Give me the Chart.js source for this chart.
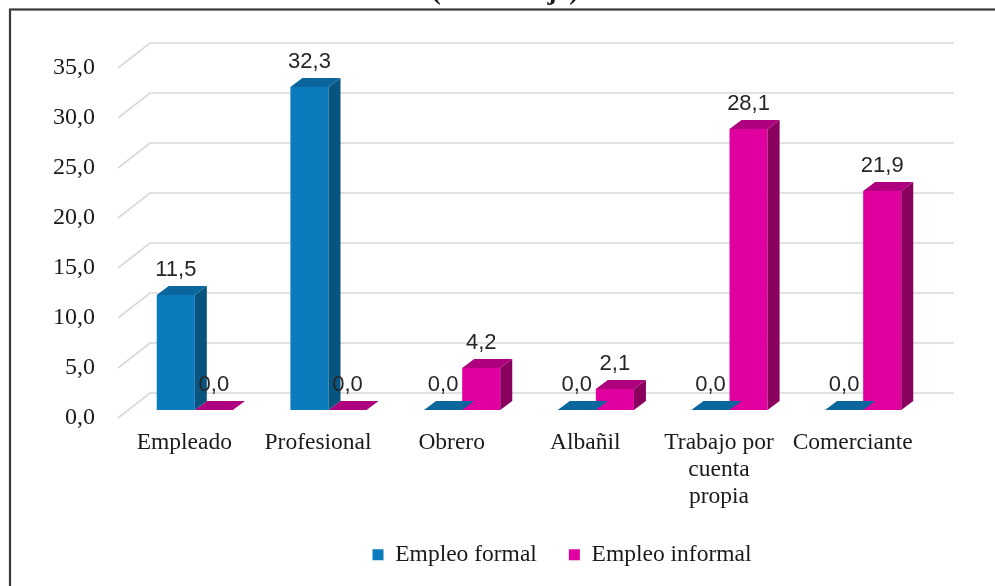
<!DOCTYPE html>
<html>
<head>
<meta charset="utf-8">
<script src="https://cdn.jsdelivr.net/npm/chart.js@4/dist/chart.umd.min.js"></script>
<style>
  html, body { margin: 0; padding: 0; background: #ffffff; overflow: hidden; width: 995px; height: 586px; }
  #wrap { position: absolute; left: 0; top: -30px; }
</style>
</head>
<body>
<div id="wrap"><canvas id="c" width="1124" height="626"></canvas></div>
<script>
// ---- data ----
const title = '(Porcentaje)';
const categories = ['Empleado', 'Profesional', 'Obrero', 'Albañil', ['Trabajo por', 'cuenta', 'propia'], 'Comerciante'];
const seriesNames = ['Empleo formal', 'Empleo informal'];
const formalValues = [11.5, 32.3, 0.0, 0.0, 0.0, 0.0];
const informalValues = [0.0, 0.0, 4.2, 2.1, 28.1, 21.9];
const yTicks = [0, 5, 10, 15, 20, 25, 30, 35];

// ---- styles ----
const faceColors = [
  { front: '#0B7BBE', top: '#0A669D', side: '#07557F' },
  { front: '#E0009F', top: '#AE007E', side: '#89005F' }
];
const DX = 12, DY = 9;              // bar depth
const BACK_DX = 22, BACK_DY = 17;   // back wall offset from bar plane
const FRONT_DX = -10, FRONT_DY = 8; // front floor edge offset
const serif = '"Liberation Serif", "Times New Roman", serif';
const fmt = v => Number(v).toFixed(1).replace('.', ',');

const gridPlugin = {
  id: 'grid3d',
  beforeDatasetsDraw(chart) {
    const ys = chart.scales.y;
    const area = chart.chartArea;
    const ctx = chart.ctx;
    ctx.save();
    ctx.strokeStyle = '#D9D9D9';
    ctx.lineWidth = 1.6;
    yTicks.forEach(v => {
      const y = ys.getPixelForValue(v);
      ctx.beginPath();
      ctx.moveTo(area.left + FRONT_DX, y + FRONT_DY);
      ctx.lineTo(area.left + BACK_DX, y - BACK_DY);
      ctx.lineTo(area.right + BACK_DX + 2, y - BACK_DY);
      ctx.stroke();
    });
    ctx.restore();
  }
};

const bar3dPlugin = {
  id: 'bar3d',
  afterDatasetDraw(chart, args) {
    const ctx = chart.ctx;
    const c = faceColors[args.index];
    ctx.save();
    args.meta.data.forEach(el => {
      const p = el.getProps(['x', 'y', 'base', 'width'], true);
      const l = p.x - p.width / 2, r = p.x + p.width / 2;
      const top = Math.min(p.y, p.base), bot = p.base;
      if (bot - top > 0.5) {
        ctx.fillStyle = c.side;
        ctx.beginPath();
        ctx.moveTo(r, top);
        ctx.lineTo(r + DX, top - DY);
        ctx.lineTo(r + DX, bot - DY);
        ctx.lineTo(r, bot);
        ctx.closePath();
        ctx.fill();
      }
      ctx.fillStyle = c.top;
      ctx.beginPath();
      ctx.moveTo(l, top);
      ctx.lineTo(l + DX, top - DY);
      ctx.lineTo(r + DX, top - DY);
      ctx.lineTo(r, top);
      ctx.closePath();
      ctx.fill();
    });
    ctx.restore();
  },
  afterDatasetsDraw(chart) {
    const ctx = chart.ctx;
    ctx.save();
    ctx.font = '22px "Liberation Sans", Arial, sans-serif';
    ctx.fillStyle = '#262626';
    ctx.textAlign = 'center';
    ctx.textBaseline = 'middle';
    chart.data.datasets.forEach((ds, i) => {
      chart.getDatasetMeta(i).data.forEach((el, j) => {
        ctx.fillText(fmt(ds.data[j]), el.x, el.y - 25);
      });
    });
    ctx.restore();
  }
};

const framePlugin = {
  id: 'frame',
  afterDraw(chart) {
    const ctx = chart.ctx;
    ctx.save();
    ctx.strokeStyle = '#3A3A3A';
    ctx.lineWidth = 2.2;
    ctx.strokeRect(10, 39.5, 1200, 800);
    ctx.font = 'bold 28px ' + serif;
    ctx.fillStyle = '#1a1a1a';
    ctx.textAlign = 'center';
    ctx.textBaseline = 'alphabetic';
    ctx.fillText(title, 505, 29);
    ctx.restore();
  }
};

new Chart(document.getElementById('c'), {
  type: 'bar',
  data: {
    labels: categories,
    datasets: [
      { label: seriesNames[0], data: formalValues, backgroundColor: faceColors[0].front, borderWidth: 0 },
      { label: seriesNames[1], data: informalValues, backgroundColor: faceColors[1].front, borderWidth: 0 }
    ]
  },
  options: {
    responsive: false,
    animation: false,
    devicePixelRatio: 1,
    layout: { padding: { top: 90, left: 0, right: 0, bottom: 25 } },
    datasets: { bar: { categoryPercentage: 0.57, barPercentage: 1.0 } },
    scales: {
      x: {
        grid: { display: false, drawTicks: false },
        border: { display: false },
        ticks: {
          font: { family: serif, size: 23.5, lineHeight: 1.13 },
          color: '#1a1a1a',
          padding: 20,
          labelOffset: -10.5,
          maxRotation: 0,
          autoSkip: false
        },
        afterFit(s) { s.height = 101; }
      },
      y: {
        min: 0,
        max: 35,
        grid: { display: false, drawTicks: false },
        border: { display: false },
        ticks: {
          stepSize: 5,
          font: { family: serif, size: 24 },
          color: '#1a1a1a',
          padding: 33,
          labelOffset: 8,
          callback: v => fmt(v)
        },
        afterFit(s) { s.width = 128; }
      },
      y2: {
        type: 'linear',
        position: 'right',
        display: true,
        grid: { display: false, drawTicks: false },
        border: { display: false },
        ticks: { display: false },
        afterFit(s) { s.width = 194; }
      }
    },
    plugins: {
      legend: {
        position: 'bottom',
        maxHeight: 60,
        labels: {
          boxWidth: 11,
          boxHeight: 11,
          padding: 32,
          color: '#1a1a1a',
          font: { family: serif, size: 23.5 }
        }
      },
      tooltip: { enabled: false },
      title: { display: false }
    }
  },
  plugins: [gridPlugin, bar3dPlugin, framePlugin]
});
</script>
</body>
</html>
